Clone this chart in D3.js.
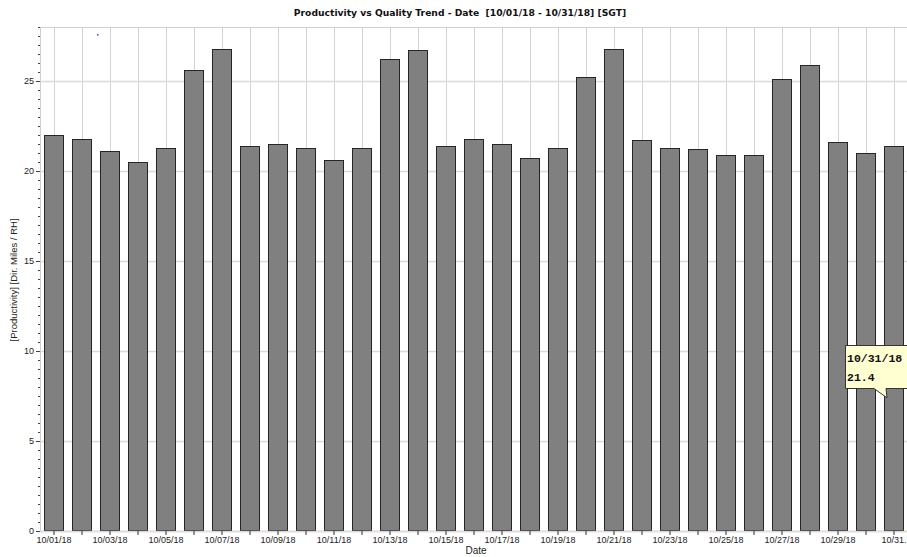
<!DOCTYPE html>
<html><head><meta charset="utf-8">
<script src="https://cdn.jsdelivr.net/npm/d3@7"></script>
<style>html,body{margin:0;padding:0;background:#fff;overflow:hidden}</style>
</head><body>
<script>
const dates = ["10/01/18","10/02/18","10/03/18","10/04/18","10/05/18","10/06/18","10/07/18","10/08/18","10/09/18","10/10/18","10/11/18","10/12/18","10/13/18","10/14/18","10/15/18","10/16/18","10/17/18","10/18/18","10/19/18","10/20/18","10/21/18","10/22/18","10/23/18","10/24/18","10/25/18","10/26/18","10/27/18","10/28/18","10/29/18","10/30/18","10/31/18"];
const productivity = [22.0,21.8,21.1,20.5,21.3,25.6,26.8,21.4,21.5,21.3,20.6,21.3,26.2,26.7,21.4,21.8,21.5,20.7,21.3,25.2,26.8,21.7,21.3,21.2,20.9,20.9,25.1,25.9,21.6,21.0,21.4];
const yTicks = [0,5,10,15,20,25];
const title = "Productivity vs Quality Trend - Date  [10/01/18 - 10/31/18] [SGT]";
const xTitle = "Date";
const yTitle = "[Productivity] [Dir. Miles / RH]";
const tooltipDate = "10/31/18";
const tooltipValue = "21.4";

const W = 907, H = 557;
const m = {left:40, right:-1, top:27, bottom:26};
const svg = d3.select("body").append("svg").attr("width",W).attr("height",H);

const x = d3.scaleBand().domain(dates).range([m.left, W - m.right]).paddingInner(8/28).paddingOuter(4/28);
const y = d3.scaleLinear().domain([0,28]).range([H - m.bottom, m.top]);

// gridlines
const grid = svg.append("g");
grid.selectAll("line.v").data(dates).join("line")
  .attr("x1", d => x(d) + x.bandwidth()/2 + 0.5).attr("x2", d => x(d) + x.bandwidth()/2 + 0.5)
  .attr("y1", m.top).attr("y2", y(0))
  .attr("stroke","#d4d4d4").attr("stroke-width",1);
grid.selectAll("line.h").data(yTicks).join("line")
  .attr("x1", m.left).attr("x2", W)
  .attr("y1", d => Math.round(y(d))+0.5).attr("y2", d => Math.round(y(d))+0.5)
  .attr("stroke","#dadada").attr("stroke-width",1.5);
svg.append("line").attr("x1",m.left).attr("x2",W).attr("y1",m.top+0.5).attr("y2",m.top+0.5).attr("stroke","#cfcfcf");

// bars
svg.append("g").selectAll("rect").data(dates).join("rect")
  .attr("x", d => Math.round(x(d)) + 0.5)
  .attr("y", (d,i) => Math.round(y(productivity[i])) + 0.5)
  .attr("width", Math.round(x.bandwidth()) - 1)
  .attr("height", (d,i) => Math.round(y(0)) - Math.round(y(productivity[i])) - 1)
  .attr("fill","#808080").attr("stroke","#262626").attr("stroke-width",1);

// y axis
const yAxisG = svg.append("g").attr("transform",`translate(${m.left},0)`);
yAxisG.append("line").attr("x1",0.5).attr("x2",0.5).attr("y1",m.top).attr("y2",y(0)).attr("stroke","#cfcfcf");
const minor = d3.range(0, 28.01, 0.5).filter(v => v % 5 !== 0);
yAxisG.selectAll("line.mn").data(minor).join("line")
  .attr("x1",-2).attr("x2",0).attr("y1",d=>Math.round(y(d))+0.5).attr("y2",d=>Math.round(y(d))+0.5)
  .attr("stroke","#444");
const ya = d3.axisLeft(y).tickValues(yTicks).tickSize(4).tickPadding(2);
const yg = svg.append("g").attr("transform",`translate(${m.left},0)`).call(ya);
yg.select(".domain").remove();
yg.selectAll(".tick line").attr("stroke","#444");
yg.selectAll("text").attr("font-family","'Liberation Sans', Arial, sans-serif").attr("font-size","9px").attr("fill","#222");

// x axis
const xa = d3.axisBottom(x).tickSize(4).tickPadding(2).tickFormat((d,i) => i % 2 === 0 ? d : "");
const xg = svg.append("g").attr("transform",`translate(0,${y(0)})`).call(xa);
xg.select(".domain").attr("stroke","#dadada").attr("stroke-width",1.5).attr("d",`M${m.left},0.5H${W}`);
xg.selectAll(".tick line").attr("stroke","#333");
xg.selectAll("text").attr("font-family","'Liberation Sans', Arial, sans-serif").attr("font-size","9px").attr("fill","#222");
// truncate labels that run past the right edge, as the original renderer does
xg.selectAll(".tick").each(function(d){
  const t = d3.select(this).select("text");
  let s = t.text();
  if (!s) return;
  const cx = x(d) + x.bandwidth()/2;
  let node = t.node();
  if (cx + node.getComputedTextLength()/2 > W) {
    while (s.length > 1) {
      s = s.slice(0, -1);
      t.text(s + ".");
      if (cx + node.getComputedTextLength()/2 <= W) break;
    }
  }
});

// titles
svg.append("text").attr("x", 460).attr("y", 16).attr("text-anchor","middle").style("white-space","pre")
  .attr("font-family","'DejaVu Sans', Verdana, sans-serif").attr("font-weight","bold").attr("font-size","9.2px").attr("fill","#111").text(title);
svg.append("text").attr("x", 476).attr("y", 554).attr("text-anchor","middle")
  .attr("font-family","'Liberation Sans', Arial, sans-serif").attr("font-size","10px").attr("fill","#222").text(xTitle);
svg.append("text").attr("transform","translate(17,280) rotate(-90)").attr("text-anchor","middle")
  .attr("font-family","'Liberation Sans', Arial, sans-serif").attr("font-size","9.5px").attr("fill","#222").text(yTitle);

// tiny blue marker
svg.append("rect").attr("x",97).attr("y",34).attr("width",1.5).attr("height",1.5).attr("fill","#3344ff");

// tooltip
const tipX = x(dates[30]) + x.bandwidth()/2 - 7;
const tipY = y(productivity[30]) + 252;
const tip = svg.append("g");
tip.append("path")
  .attr("d", `M845.5,345.5H910V388.5H${tipX-1}L${tipX},${tipY}L${tipX-13},388.5H845.5Z`)
  .attr("fill","#ffffd2").attr("stroke","#333").attr("stroke-width",1);
tip.append("text").attr("x",847).attr("y",362).attr("font-family","'Liberation Mono', 'Courier New', monospace")
  .attr("font-weight","bold").attr("font-size","11.5px").attr("fill","#111").text(tooltipDate);
tip.append("text").attr("x",847).attr("y",381).attr("font-family","'Liberation Mono', 'Courier New', monospace")
  .attr("font-weight","bold").attr("font-size","11.5px").attr("fill","#111").text(tooltipValue);
</script>
</body></html>
